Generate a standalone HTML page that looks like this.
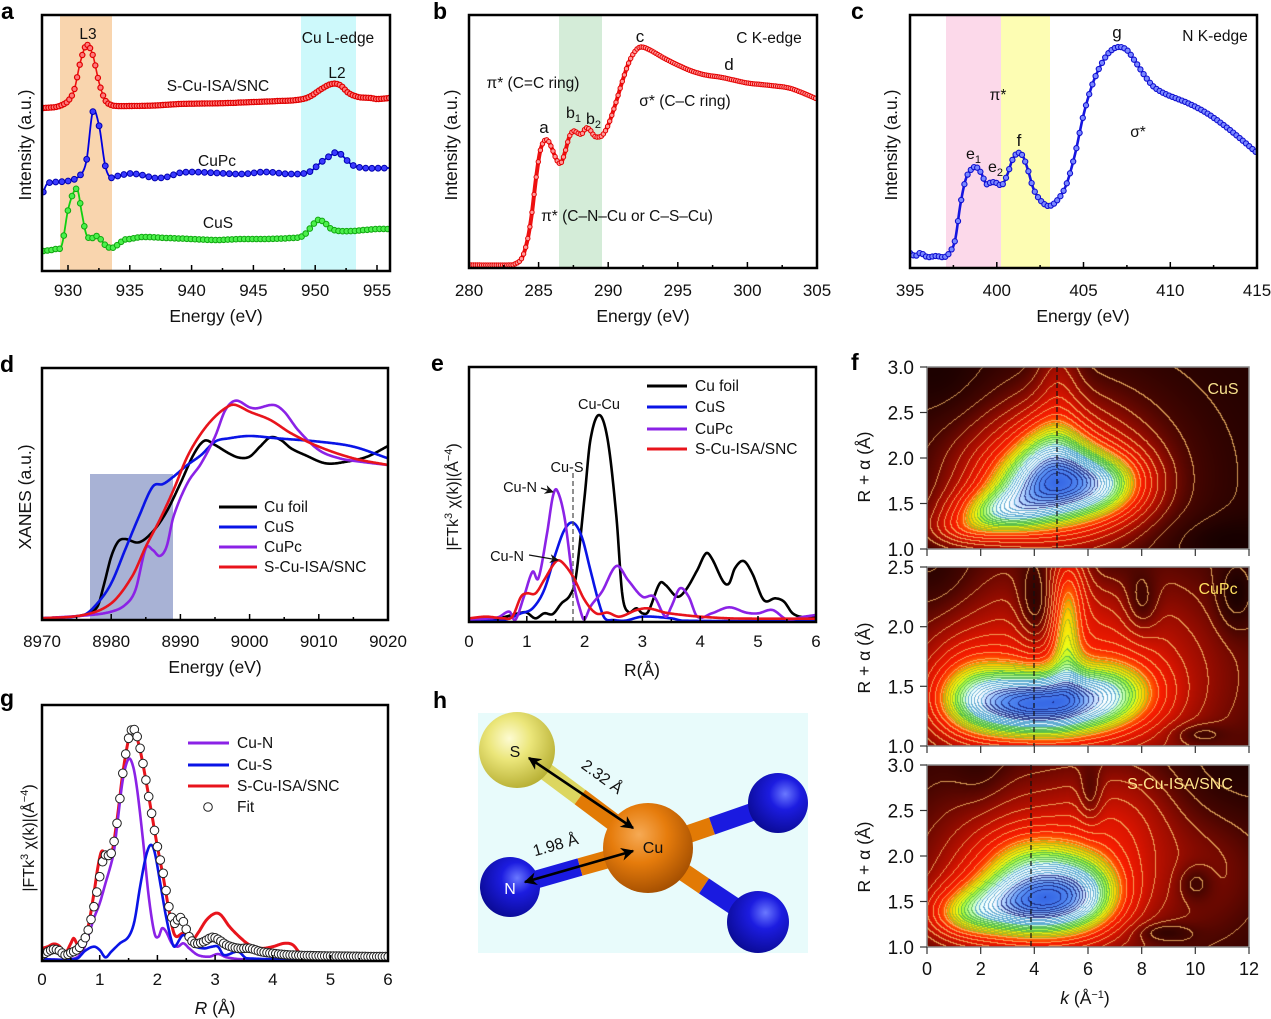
<!DOCTYPE html>
<html><head><meta charset="utf-8">
<style>
html,body{margin:0;padding:0;background:#fff;}
#wrap{position:relative;width:1271px;height:1019px;overflow:hidden;background:#fff;}
canvas{position:absolute;}
svg{position:absolute;left:0;top:0;}
text{font-family:"Liberation Sans",Arial,sans-serif;fill:#111;}
.pl{font-weight:bold;font-size:23px;fill:#000;}
.tk{font-size:17px;text-anchor:middle;}
.ti{font-size:17.5px;text-anchor:middle;}
.an{font-size:15.5px;text-anchor:middle;}
.lg{font-size:15.5px;}
.ft{font-size:19px;text-anchor:end;}
</style></head><body>
<div id="wrap">
<canvas id="m1" width="322" height="182" style="left:927px;top:367px"></canvas>
<canvas id="m2" width="322" height="179" style="left:927px;top:567px"></canvas>
<canvas id="m3" width="322" height="182" style="left:927px;top:765px"></canvas>
<svg id="s" width="1271" height="1019" viewBox="0 0 1271 1019">
<defs>
<clipPath id="ca"><rect x="42" y="15" width="348" height="256"/></clipPath>
<clipPath id="cb"><rect x="469" y="15" width="348" height="253"/></clipPath>
<clipPath id="cc"><rect x="910" y="15" width="347" height="253"/></clipPath>
<clipPath id="cd"><rect x="42" y="368" width="346" height="252"/></clipPath>
<clipPath id="ce"><rect x="469" y="367" width="347" height="255"/></clipPath>
<clipPath id="cg"><rect x="42" y="705" width="346" height="256"/></clipPath>
<marker id="ah" viewBox="0 0 10 10" refX="9" refY="5" markerWidth="9" markerHeight="9" markerUnits="userSpaceOnUse" orient="auto-start-reverse"><path d="M0,0 L10,5 L0,10 L3,5 Z" fill="#111"/></marker>
<marker id="ah2" viewBox="0 0 10 10" refX="9" refY="5" markerWidth="13" markerHeight="13" markerUnits="userSpaceOnUse" orient="auto-start-reverse"><path d="M0,0 L10,5 L0,10 L3,5 Z" fill="#000"/></marker>
<radialGradient id="gS" cx="0.4" cy="0.35" r="0.7"><stop offset="0" stop-color="#fdfbd2"/><stop offset="0.4" stop-color="#ebe67a"/><stop offset="1" stop-color="#b4ac30"/></radialGradient>
<radialGradient id="gCu" cx="0.4" cy="0.35" r="0.7"><stop offset="0" stop-color="#f6aa55"/><stop offset="0.45" stop-color="#e67c0c"/><stop offset="1" stop-color="#a04c00"/></radialGradient>
<radialGradient id="gN" cx="0.62" cy="0.35" r="0.75"><stop offset="0" stop-color="#6a78ff"/><stop offset="0.35" stop-color="#1c1ce0"/><stop offset="1" stop-color="#08088a"/></radialGradient>
</defs>

<!-- Panel a -->
<rect x="60" y="16" width="52" height="254" fill="#f9d5ae"/>
<rect x="301" y="16" width="55" height="254" fill="#cdf9fb"/>
<g id="ga" clip-path="url(#ca)"></g>
<rect x="42" y="15" width="348" height="256" fill="none" stroke="#000" stroke-width="2.5"/>
<g stroke="#000" stroke-width="1.5">
<line x1="68" y1="271" x2="68" y2="265"/><line x1="129.8" y1="271" x2="129.8" y2="265"/><line x1="191.6" y1="271" x2="191.6" y2="265"/><line x1="253.4" y1="271" x2="253.4" y2="265"/><line x1="315.2" y1="271" x2="315.2" y2="265"/><line x1="377" y1="271" x2="377" y2="265"/>
<line x1="98.9" y1="271" x2="98.9" y2="268"/><line x1="160.7" y1="271" x2="160.7" y2="268"/><line x1="222.5" y1="271" x2="222.5" y2="268"/><line x1="284.3" y1="271" x2="284.3" y2="268"/><line x1="346.1" y1="271" x2="346.1" y2="268"/>
</g>
<text class="tk" x="68" y="296">930</text><text class="tk" x="129.8" y="296">935</text><text class="tk" x="191.6" y="296">940</text><text class="tk" x="253.4" y="296">945</text><text class="tk" x="315.2" y="296">950</text><text class="tk" x="377" y="296">955</text>
<text class="ti" x="216" y="322">Energy (eV)</text>
<text class="ti" transform="translate(31,145) rotate(-90)">Intensity (a.u.)</text>
<text class="an" x="88" y="39">L3</text>
<text class="an" x="338" y="43">Cu L-edge</text>
<text class="an" x="337" y="78">L2</text>
<text class="an" x="218" y="91">S-Cu-ISA/SNC</text>
<text class="an" x="217" y="166">CuPc</text>
<text class="an" x="218" y="228">CuS</text>
<text class="pl" x="1" y="19">a</text>

<!-- Panel b -->
<rect x="559" y="16" width="43" height="251" fill="#d4ecd8"/>
<g id="gb" clip-path="url(#cb)"></g>
<rect x="469" y="15" width="348" height="253" fill="none" stroke="#000" stroke-width="2.5"/>
<g stroke="#000" stroke-width="1.5">
<line x1="538.6" y1="268" x2="538.6" y2="262"/><line x1="608.2" y1="268" x2="608.2" y2="262"/><line x1="677.8" y1="268" x2="677.8" y2="262"/><line x1="747.4" y1="268" x2="747.4" y2="262"/>
<line x1="503.8" y1="268" x2="503.8" y2="265"/><line x1="573.4" y1="268" x2="573.4" y2="265"/><line x1="643" y1="268" x2="643" y2="265"/><line x1="712.6" y1="268" x2="712.6" y2="265"/><line x1="782.2" y1="268" x2="782.2" y2="265"/>
</g>
<text class="tk" x="469" y="296">280</text><text class="tk" x="538.6" y="296">285</text><text class="tk" x="608.2" y="296">290</text><text class="tk" x="677.8" y="296">295</text><text class="tk" x="747.4" y="296">300</text><text class="tk" x="817" y="296">305</text>
<text class="ti" x="643" y="322">Energy (eV)</text>
<text class="ti" transform="translate(457,145) rotate(-90)">Intensity (a.u.)</text>
<text class="an" x="769" y="43">C K-edge</text>
<text class="an" x="640" y="42" style="font-size:17px">c</text>
<text class="an" x="729" y="70" style="font-size:17px">d</text>
<text class="an" x="533" y="88">π* (C=C ring)</text>
<text class="an" x="685" y="106">σ* (C–C ring)</text>
<text class="an" x="544" y="133" style="font-size:17px">a</text>
<text x="566" y="118" style="font-size:16px">b<tspan dy="4" font-size="11">1</tspan></text>
<text x="586" y="124" style="font-size:16px">b<tspan dy="4" font-size="11">2</tspan></text>
<text class="an" x="627" y="221">π* (C–N–Cu or C–S–Cu)</text>
<text class="pl" x="433" y="19">b</text>

<!-- Panel c -->
<rect x="946" y="16" width="55" height="251" fill="#fcd9ea"/>
<rect x="1001" y="16" width="49" height="251" fill="#fdfdb3"/>
<g id="gc" clip-path="url(#cc)"></g>
<rect x="910" y="15" width="347" height="253" fill="none" stroke="#000" stroke-width="2.5"/>
<g stroke="#000" stroke-width="1.5">
<line x1="996.8" y1="268" x2="996.8" y2="262"/><line x1="1083.5" y1="268" x2="1083.5" y2="262"/><line x1="1170.3" y1="268" x2="1170.3" y2="262"/>
<line x1="953.4" y1="268" x2="953.4" y2="265"/><line x1="1040.1" y1="268" x2="1040.1" y2="265"/><line x1="1126.9" y1="268" x2="1126.9" y2="265"/><line x1="1213.6" y1="268" x2="1213.6" y2="265"/>
</g>
<text class="tk" x="910" y="296">395</text><text class="tk" x="996.8" y="296">400</text><text class="tk" x="1083.5" y="296">405</text><text class="tk" x="1170.3" y="296">410</text><text class="tk" x="1257" y="296">415</text>
<text class="ti" x="1083" y="322">Energy (eV)</text>
<text class="ti" transform="translate(897,145) rotate(-90)">Intensity (a.u.)</text>
<text class="an" x="1215" y="41">N K-edge</text>
<text class="an" x="1117" y="38" style="font-size:17px">g</text>
<text class="an" x="998" y="100">π*</text>
<text class="an" x="1138" y="137">σ*</text>
<text x="966" y="159" style="font-size:16px">e<tspan dy="4" font-size="11">1</tspan></text>
<text x="988" y="172" style="font-size:16px">e<tspan dy="4" font-size="11">2</tspan></text>
<text class="an" x="1019" y="146" style="font-size:17px">f</text>
<text class="pl" x="851" y="19">c</text>

<!-- Panel d -->
<rect x="90" y="474" width="83" height="146" fill="#a8b2d5"/>
<g id="gd" clip-path="url(#cd)"></g>
<rect x="42" y="368" width="346" height="252" fill="none" stroke="#000" stroke-width="2.5"/>
<g stroke="#000" stroke-width="1.5">
<line x1="111.2" y1="620" x2="111.2" y2="614"/><line x1="180.4" y1="620" x2="180.4" y2="614"/><line x1="249.6" y1="620" x2="249.6" y2="614"/><line x1="318.8" y1="620" x2="318.8" y2="614"/>
<line x1="76.6" y1="620" x2="76.6" y2="617"/><line x1="145.8" y1="620" x2="145.8" y2="617"/><line x1="215" y1="620" x2="215" y2="617"/><line x1="284.2" y1="620" x2="284.2" y2="617"/><line x1="353.4" y1="620" x2="353.4" y2="617"/>
</g>
<text class="tk" x="42" y="647">8970</text><text class="tk" x="111.2" y="647">8980</text><text class="tk" x="180.4" y="647">8990</text><text class="tk" x="249.6" y="647">9000</text><text class="tk" x="318.8" y="647">9010</text><text class="tk" x="388" y="647">9020</text>
<text class="ti" x="215" y="673">Energy (eV)</text>
<text class="ti" transform="translate(31,497) rotate(-90)">XANES (a.u.)</text>
<g stroke-width="3">
<line x1="219" y1="507" x2="257" y2="507" stroke="#000"/>
<line x1="219" y1="527" x2="257" y2="527" stroke="#0a14e6"/>
<line x1="219" y1="547" x2="257" y2="547" stroke="#8b22e6"/>
<line x1="219" y1="567" x2="257" y2="567" stroke="#e8141c"/>
</g>
<text class="lg" x="264" y="512">Cu foil</text>
<text class="lg" x="264" y="532">CuS</text>
<text class="lg" x="264" y="552">CuPc</text>
<text class="lg" x="264" y="572">S-Cu-ISA/SNC</text>
<text class="pl" x="0" y="372">d</text>

<!-- Panel e -->
<g id="ge" clip-path="url(#ce)"></g>
<line x1="573" y1="473" x2="573" y2="622" stroke="#555" stroke-width="1.3" stroke-dasharray="5,3"/>
<rect x="469" y="367" width="347" height="255" fill="none" stroke="#000" stroke-width="2.5"/>
<g stroke="#000" stroke-width="1.5">
<line x1="526.8" y1="622" x2="526.8" y2="616"/><line x1="584.6" y1="622" x2="584.6" y2="616"/><line x1="642.4" y1="622" x2="642.4" y2="616"/><line x1="700.2" y1="622" x2="700.2" y2="616"/><line x1="758" y1="622" x2="758" y2="616"/>
<line x1="497.9" y1="622" x2="497.9" y2="619"/><line x1="555.7" y1="622" x2="555.7" y2="619"/><line x1="613.5" y1="622" x2="613.5" y2="619"/><line x1="671.3" y1="622" x2="671.3" y2="619"/><line x1="729.1" y1="622" x2="729.1" y2="619"/><line x1="786.9" y1="622" x2="786.9" y2="619"/>
</g>
<text class="tk" x="469" y="647">0</text><text class="tk" x="526.8" y="647">1</text><text class="tk" x="584.6" y="647">2</text><text class="tk" x="642.4" y="647">3</text><text class="tk" x="700.2" y="647">4</text><text class="tk" x="758" y="647">5</text><text class="tk" x="816" y="647">6</text>
<text class="ti" x="642" y="676">R(Å)</text>
<text style="font-size:16px;text-anchor:middle" transform="translate(458,497) rotate(-90)">|FTk<tspan dy="-6" font-size="11">3</tspan><tspan dy="6"> χ(k)|(Å</tspan><tspan dy="-6" font-size="11">−4</tspan><tspan dy="6">)</tspan></text>
<g stroke-width="3">
<line x1="647" y1="386" x2="687" y2="386" stroke="#000"/>
<line x1="647" y1="407" x2="687" y2="407" stroke="#0a14e6"/>
<line x1="647" y1="429" x2="687" y2="429" stroke="#8b22e6"/>
<line x1="647" y1="449" x2="687" y2="449" stroke="#e8141c"/>
</g>
<text class="lg" x="695" y="391">Cu foil</text>
<text class="lg" x="695" y="412">CuS</text>
<text class="lg" x="695" y="434">CuPc</text>
<text class="lg" x="695" y="454">S-Cu-ISA/SNC</text>
<text class="an" x="599" y="409" style="font-size:14.5px">Cu-Cu</text>
<text class="an" x="567" y="472" style="font-size:14.5px">Cu-S</text>
<text class="an" x="520" y="492" style="font-size:14.5px">Cu-N</text>
<text class="an" x="507" y="561" style="font-size:14.5px">Cu-N</text>
<line x1="541" y1="488" x2="553" y2="492" stroke="#111" stroke-width="1.2" marker-end="url(#ah)"/>
<line x1="529" y1="555" x2="558" y2="560" stroke="#111" stroke-width="1.2" marker-end="url(#ah)"/>
<text class="pl" x="431" y="371">e</text>

<!-- Panel g -->
<g id="gg" clip-path="url(#cg)"></g>
<rect x="42" y="705" width="346" height="256" fill="none" stroke="#000" stroke-width="2.5"/>
<g stroke="#000" stroke-width="1.5">
<line x1="99.7" y1="961" x2="99.7" y2="955"/><line x1="157.4" y1="961" x2="157.4" y2="955"/><line x1="215.1" y1="961" x2="215.1" y2="955"/><line x1="272.8" y1="961" x2="272.8" y2="955"/><line x1="330.5" y1="961" x2="330.5" y2="955"/>
<line x1="70.9" y1="961" x2="70.9" y2="958"/><line x1="128.6" y1="961" x2="128.6" y2="958"/><line x1="186.3" y1="961" x2="186.3" y2="958"/><line x1="244" y1="961" x2="244" y2="958"/><line x1="301.7" y1="961" x2="301.7" y2="958"/><line x1="359.4" y1="961" x2="359.4" y2="958"/>
</g>
<text class="tk" x="42" y="985">0</text><text class="tk" x="99.7" y="985">1</text><text class="tk" x="157.4" y="985">2</text><text class="tk" x="215.1" y="985">3</text><text class="tk" x="272.8" y="985">4</text><text class="tk" x="330.5" y="985">5</text><text class="tk" x="388" y="985">6</text>
<text class="ti" x="215" y="1014"><tspan font-style="italic">R</tspan> (Å)</text>
<text style="font-size:16px;text-anchor:middle" transform="translate(34,838) rotate(-90)">|FTk<tspan dy="-6" font-size="11">3</tspan><tspan dy="6"> χ(k)|(Å</tspan><tspan dy="-6" font-size="11">−4</tspan><tspan dy="6">)</tspan></text>
<g stroke-width="3">
<line x1="188" y1="743" x2="229" y2="743" stroke="#8b22e6"/>
<line x1="188" y1="765" x2="229" y2="765" stroke="#0a14e6"/>
<line x1="188" y1="786" x2="229" y2="786" stroke="#e8141c"/>
</g>
<circle cx="208" cy="807" r="4.3" fill="#fff" stroke="#222" stroke-width="1"/>
<text class="lg" x="237" y="748">Cu-N</text>
<text class="lg" x="237" y="770">Cu-S</text>
<text class="lg" x="237" y="791">S-Cu-ISA/SNC</text>
<text class="lg" x="237" y="812">Fit</text>
<text class="pl" x="0" y="706">g</text>

<!-- Panel h -->
<rect x="478" y="713" width="330" height="240" fill="#e8fbfb"/>
<g stroke-linecap="butt">
<line x1="517" y1="750" x2="580" y2="797" stroke="#dcd660" stroke-width="18"/>
<line x1="580" y1="797" x2="648" y2="848" stroke="#e27a05" stroke-width="18"/>
<line x1="648" y1="848" x2="712" y2="826" stroke="#e27a05" stroke-width="18"/>
<line x1="712" y1="826" x2="778" y2="803" stroke="#1a1ae0" stroke-width="18"/>
<line x1="648" y1="848" x2="704" y2="886" stroke="#e27a05" stroke-width="18"/>
<line x1="704" y1="886" x2="758" y2="922" stroke="#1a1ae0" stroke-width="18"/>
<line x1="510" y1="887" x2="580" y2="867" stroke="#1a1ae0" stroke-width="18"/>
<line x1="580" y1="867" x2="648" y2="848" stroke="#e27a05" stroke-width="18"/>
</g>
<circle cx="778" cy="803" r="30" fill="url(#gN)"/>
<circle cx="758" cy="922" r="31" fill="url(#gN)"/>
<circle cx="517" cy="750" r="38" fill="url(#gS)"/>
<circle cx="648" cy="848" r="45" fill="url(#gCu)"/>
<circle cx="510" cy="887" r="30" fill="url(#gN)"/>
<line x1="529" y1="758" x2="633" y2="828" stroke="#000" stroke-width="2.6" marker-start="url(#ah2)" marker-end="url(#ah2)"/>
<line x1="525" y1="882" x2="633" y2="851" stroke="#000" stroke-width="2.6" marker-start="url(#ah2)" marker-end="url(#ah2)"/>
<text x="515" y="757" style="font-size:16px;text-anchor:middle">S</text>
<text x="653" y="853" style="font-size:16px;text-anchor:middle">Cu</text>
<text x="510" y="894" style="font-size:16px;text-anchor:middle;fill:#fff">N</text>
<text style="font-size:16px;text-anchor:middle" transform="translate(599,781) rotate(36)">2.32 Å</text>
<text style="font-size:16px;text-anchor:middle" transform="translate(557,850) rotate(-16)">1.98 Å</text>
<text class="pl" x="433" y="708">h</text>

<!-- Panel f -->
<rect x="927" y="367" width="322" height="182" fill="none" stroke="#8a8a8a" stroke-width="1.5"/>
<rect x="927" y="567" width="322" height="179" fill="none" stroke="#8a8a8a" stroke-width="1.5"/>
<rect x="927" y="765" width="322" height="182" fill="none" stroke="#8a8a8a" stroke-width="1.5"/>
<line x1="1057" y1="367" x2="1057" y2="549" stroke="#111" stroke-width="1.2" stroke-dasharray="5,3"/>
<line x1="1034" y1="567" x2="1034" y2="746" stroke="#111" stroke-width="1.2" stroke-dasharray="5,3"/>
<line x1="1031" y1="765" x2="1031" y2="947" stroke="#111" stroke-width="1.2" stroke-dasharray="5,3"/>
<g stroke="#333" stroke-width="1.2">
<line x1="920" y1="367" x2="927" y2="367"/><line x1="920" y1="412.5" x2="927" y2="412.5"/><line x1="920" y1="458" x2="927" y2="458"/><line x1="920" y1="503.5" x2="927" y2="503.5"/><line x1="920" y1="549" x2="927" y2="549"/>
<line x1="920" y1="567" x2="927" y2="567"/><line x1="920" y1="626.7" x2="927" y2="626.7"/><line x1="920" y1="686.3" x2="927" y2="686.3"/><line x1="920" y1="746" x2="927" y2="746"/>
<line x1="920" y1="765" x2="927" y2="765"/><line x1="920" y1="810.5" x2="927" y2="810.5"/><line x1="920" y1="856" x2="927" y2="856"/><line x1="920" y1="901.5" x2="927" y2="901.5"/><line x1="920" y1="947" x2="927" y2="947"/>
<line x1="927" y1="549" x2="927" y2="556"/><line x1="980.7" y1="549" x2="980.7" y2="556"/><line x1="1034.3" y1="549" x2="1034.3" y2="556"/><line x1="1088" y1="549" x2="1088" y2="556"/><line x1="1141.7" y1="549" x2="1141.7" y2="556"/><line x1="1195.3" y1="549" x2="1195.3" y2="556"/><line x1="1249" y1="549" x2="1249" y2="556"/>
<line x1="927" y1="746" x2="927" y2="753"/><line x1="980.7" y1="746" x2="980.7" y2="753"/><line x1="1034.3" y1="746" x2="1034.3" y2="753"/><line x1="1088" y1="746" x2="1088" y2="753"/><line x1="1141.7" y1="746" x2="1141.7" y2="753"/><line x1="1195.3" y1="746" x2="1195.3" y2="753"/><line x1="1249" y1="746" x2="1249" y2="753"/>
<line x1="927" y1="947" x2="927" y2="954"/><line x1="980.7" y1="947" x2="980.7" y2="954"/><line x1="1034.3" y1="947" x2="1034.3" y2="954"/><line x1="1088" y1="947" x2="1088" y2="954"/><line x1="1141.7" y1="947" x2="1141.7" y2="954"/><line x1="1195.3" y1="947" x2="1195.3" y2="954"/><line x1="1249" y1="947" x2="1249" y2="954"/>
</g>
<text class="ft" x="914" y="374">3.0</text><text class="ft" x="914" y="419.5">2.5</text><text class="ft" x="914" y="465">2.0</text><text class="ft" x="914" y="510.5">1.5</text><text class="ft" x="914" y="556">1.0</text>
<text class="ft" x="914" y="574">2.5</text><text class="ft" x="914" y="633.7">2.0</text><text class="ft" x="914" y="693.3">1.5</text><text class="ft" x="914" y="753">1.0</text>
<text class="ft" x="914" y="772">3.0</text><text class="ft" x="914" y="817.5">2.5</text><text class="ft" x="914" y="863">2.0</text><text class="ft" x="914" y="908.5">1.5</text><text class="ft" x="914" y="954">1.0</text>
<text class="tk" x="927" y="975" style="font-size:18px">0</text><text class="tk" x="980.7" y="975" style="font-size:18px">2</text><text class="tk" x="1034.3" y="975" style="font-size:18px">4</text><text class="tk" x="1088" y="975" style="font-size:18px">6</text><text class="tk" x="1141.7" y="975" style="font-size:18px">8</text><text class="tk" x="1195.3" y="975" style="font-size:18px">10</text><text class="tk" x="1249" y="975" style="font-size:18px">12</text>
<text class="ti" x="1085" y="1004"><tspan font-style="italic">k</tspan> (Å<tspan dy="-6" font-size="11">−1</tspan><tspan dy="6">)</tspan></text>
<text class="ti" transform="translate(870,467) rotate(-90)">R + α (Å)</text>
<text class="ti" transform="translate(870,658) rotate(-90)">R + α (Å)</text>
<text class="ti" transform="translate(870,857) rotate(-90)">R + α (Å)</text>
<text x="1223" y="394" style="font-size:16px;text-anchor:middle;fill:#f6e08c">CuS</text>
<text x="1218" y="594" style="font-size:16px;text-anchor:middle;fill:#ffe060">CuPc</text>
<text x="1180" y="789" style="font-size:16px;text-anchor:middle;fill:#ffe58c">S-Cu-ISA/SNC</text>
<text class="pl" x="851" y="370">f</text>
</svg>
</div>
<script>
const NS="http://www.w3.org/2000/svg";
function el(tag,attrs,parent){const e=document.createElementNS(NS,tag);for(const k in attrs)e.setAttribute(k,attrs[k]);parent.appendChild(e);return e;}
function hermite(pts){
  const n=pts.length,m=new Array(n);
  for(let i=0;i<n;i++){const a=pts[Math.max(0,i-1)],b=pts[Math.min(n-1,i+1)];m[i]=(b[1]-a[1])/(b[0]-a[0]);}
  return x=>{let i=0;while(i<n-2&&x>pts[i+1][0])i++;
    const p0=pts[i],p1=pts[i+1],h=p1[0]-p0[0];const t=(x-p0[0])/h,t2=t*t,t3=t2*t;
    return (2*t3-3*t2+1)*p0[1]+(t3-2*t2+t)*h*m[i]+(-2*t3+3*t2)*p1[1]+(t3-t2)*h*m[i+1];};
}
function curve(g,pts,xm,ym,style){
  const P=pts.map(p=>[xm(p[0]),ym(p[1])]);const f=hermite(P);
  const x0=P[0][0],x1=P[P.length-1][0];let d='';
  for(let x=x0;x<=x1+0.25;x+=0.5){const xx=Math.min(x,x1);d+=(d?'L':'M')+xx.toFixed(1)+','+f(xx).toFixed(1);}
  el('path',Object.assign({d:d,fill:'none','stroke-linejoin':'round'},style),g);
  return {f:f,x0:x0,x1:x1};
}
function markers(g,c,step,r,fill,stroke,sw){
  for(let x=c.x0;x<=c.x1+0.01;x+=step){el('circle',{cx:x.toFixed(1),cy:c.f(x).toFixed(1),r:r,fill:fill,stroke:stroke,'stroke-width':sw},g);}
}
const id=v=>v;
// Panel a
(function(){
  const g=document.getElementById('ga');const xm=E=>68+(E-930)*12.36;
  const red=[[928,108],[929,107],[929.5,105],[930,101],[930.5,90],[931,62],[931.5,45],[932,55],[932.5,82],[933,100],[933.5,105],[934,106],[935,106],[937,105.5],[939,104],[941,103.5],[943,103],[945,102],[947,101],[948.5,100],[949.5,97],[950.5,89],[951.3,84],[952,85],[952.7,93],[953.5,97],[954.5,98],[955,99],[956,98]];
  const blue=[[928,192],[928.3,184],[929,182],[930,181],[931,175],[931.5,160],[932,112],[932.5,125],[933,165],[933.4,177],[934,176],[935,173.5],[936,175],[937,178],[938,177],[939,173],[940,172],[942,173],[944,174],[946,172],[948,174],[949.5,172],[950.5,162],[951.3,155],[951.8,152],[952.3,157],[953,165],[954,168],[956,168]];
  const green=[[928,251],[929,249],[929.5,245],[930,210],[930.5,191],[930.8,191],[931.1,212],[931.5,235],[932,238],[932.3,236],[932.7,240],[933,245],[933.5,248],[934,245],[934.5,240],[935,239],[936,237],[938,238],[940,239],[942,240],[944,239],[946,239],[948,238],[949,236],[949.8,225],[950.2,220],[950.7,222],[951.3,229],[952,231],[953,231],[954,230],[955,229],[956,229]];
  let c=curve(g,red,xm,id,{stroke:'#ee1010','stroke-width':1.6});markers(g,c,2.6,2.6,'#ff7a7a','#e00000',1.2);
  c=curve(g,blue,xm,id,{stroke:'#0000e0','stroke-width':1.8});markers(g,c,6.2,2.9,'#3a3aff','#0000b0',1);
  c=curve(g,green,xm,id,{stroke:'#10d010','stroke-width':1.8});markers(g,c,4.1,2.8,'#4cf04c','#10a810',1);
})();
// Panel b
(function(){
  const g=document.getElementById('gb');const xm=E=>469+(E-280)*13.92;
  const d=[[280,265],[283,265],[283.3,264],[283.8,258],[284.2,240],[284.5,215],[284.8,180],[285.1,152],[285.4,141],[285.7,141],[286,150],[286.3,160],[286.6,163],[286.9,152],[287.2,137],[287.5,131],[287.8,133],[288.1,134],[288.4,128],[288.7,130],[289,136],[289.3,137],[289.6,135],[290,125],[290.5,105],[291,82],[291.5,62],[292,50],[292.4,47],[293,50],[294,58],[295,65],[296,71],[297,75],[298,77],[299,80],[300,83],[301,84.5],[302,86],[303,88],[304,93],[305,99]];
  const c=curve(g,d,xm,id,{stroke:'#ee1010','stroke-width':4});markers(g,c,2.1,2.2,'#ff9a9a','#e40000',1);
})();
// Panel c
(function(){
  const g=document.getElementById('gc');const xm=E=>910+(E-395)*17.35;
  const d=[[395,253],[395.3,256],[395.6,253],[396,257],[396.5,256],[397,257],[397.3,252],[397.6,240],[397.9,205],[398.2,180],[398.5,170],[398.8,167],[399.1,173],[399.4,184],[399.7,182],[400,183],[400.3,185],[400.6,175],[400.9,160],[401.2,153],[401.5,156],[401.8,170],[402.1,188],[402.5,200],[403,206],[403.5,200],[404,185],[404.5,155],[405,115],[405.5,85],[406,65],[406.5,52],[407,47],[407.5,50],[408,62],[408.5,75],[409,86],[409.5,92],[410,96],[411,103],[412,112],[413,124],[414,138],[415,153]];
  const c=curve(g,d,xm,id,{stroke:'#1515e0','stroke-width':2.6});markers(g,c,3.2,2.6,'#7a88ff','#1010d0',1.1);
})();
// Panel d
(function(){
  const g=document.getElementById('gd');const xm=E=>42+(E-8970)*6.92;const ym=z=>330+z/3;
  const bk=[[8970,865],[8976,855],[8978,830],[8979,760],[8980,680],[8981,635],[8982,627],[8984,637],[8986,605],[8988,545],[8990,460],[8992,370],[8993.5,332],[8995,345],[8997,370],[8998.5,383],[9000,380],[9001.5,350],[9003,322],[9004.5,330],[9006,355],[9008,375],[9011,400],[9014,395],[9017,380],[9020,348]];
  const bl=[[8970,865],[8976,855],[8978,820],[8980,760],[8982,660],[8984,560],[8986,470],[8987.5,462],[8989,440],[8991,405],[8993,375],[8995,335],[8997,325],[9000,318],[9004,325],[9010,335],[9015,350],[9020,385]];
  const pu=[[8970,865],[8977,855],[8980,845],[8982,825],[8983.5,780],[8985,655],[8986,660],[8987,678],[8988,650],[8989,560],[8991,460],[8993,400],[8995,320],[8996.5,240],[8998,212],[9000,232],[9001,235],[9003.5,225],[9005,245],[9007,300],[9010,360],[9013,385],[9016,395],[9020,405]];
  const rd=[[8970,865],[8976,855],[8980,820],[8983,740],[8985,650],[8987,570],[8989,480],[8991,380],[8993,310],[8995,260],[8997,228],[8998,225],[9000,245],[9003,270],[9006,310],[9010,350],[9015,385],[9020,405]];
  curve(g,bk,xm,ym,{stroke:'#000','stroke-width':2.6});
  curve(g,bl,xm,ym,{stroke:'#0a14e6','stroke-width':2.6});
  curve(g,pu,xm,ym,{stroke:'#8b22e6','stroke-width':2.6});
  curve(g,rd,xm,ym,{stroke:'#e8141c','stroke-width':2.6});
})();
// Panel e
(function(){
  const g=document.getElementById('ge');const xm=R=>469+R*57.8;const ym=z=>330+z/3;
  const bk=[[0,870],[0.5,865],[0.9,848],[1.0,848],[1.15,865],[1.3,850],[1.45,852],[1.6,820],[1.75,795],[1.85,740],[2.0,500],[2.1,330],[2.25,255],[2.4,330],[2.55,560],[2.65,790],[2.75,845],[2.9,835],[3.0,850],[3.1,845],[3.3,760],[3.4,765],[3.6,800],[3.75,780],[3.95,720],[4.1,670],[4.2,685],[4.4,755],[4.5,760],[4.6,715],[4.75,693],[4.9,730],[5.1,810],[5.3,805],[5.45,815],[5.6,850],[5.8,862],[6.0,860]];
  const bl=[[0,872],[0.6,870],[0.9,850],[1.1,835],[1.3,780],[1.5,670],[1.65,600],[1.8,578],[1.95,620],[2.1,720],[2.25,820],[2.35,865],[2.5,870],[2.7,872],[3,860],[3.5,865],[3.7,872],[6,872]];
  const pu=[[0,868],[0.5,862],[0.7,845],[0.8,870],[0.95,800],[1.1,725],[1.2,745],[1.35,610],[1.45,500],[1.52,480],[1.65,560],[1.8,750],[1.95,855],[2.0,868],[2.1,830],[2.3,785],[2.55,708],[2.75,750],[3.0,800],[3.2,800],[3.4,860],[3.5,830],[3.65,775],[3.8,800],[3.95,860],[4.2,850],[4.5,832],[4.8,848],[5.0,850],[5.25,840],[5.5,868],[5.8,860],[6,855]];
  const rd=[[0,865],[0.3,860],[0.6,865],[0.75,860],[0.9,800],[1.0,790],[1.15,790],[1.3,750],[1.5,695],[1.6,695],[1.8,740],[2.0,810],[2.2,850],[2.4,848],[2.6,860],[2.9,840],[3.1,835],[3.4,848],[3.7,855],[4,860],[4.5,865],[5,866],[6,866]];
  curve(g,bk,xm,ym,{stroke:'#000','stroke-width':2.6});
  curve(g,bl,xm,ym,{stroke:'#0a14e6','stroke-width':2.6});
  curve(g,pu,xm,ym,{stroke:'#8b22e6','stroke-width':2.6});
  curve(g,rd,xm,ym,{stroke:'#e8141c','stroke-width':2.6});
})();
// Panel g
(function(){
  const g=document.getElementById('gg');const xm=R=>42+R*57.7;const ym=z=>680+z/3;
  const rd=[[0,805],[0.1,800],[0.2,792],[0.3,798],[0.4,820],[0.5,790],[0.55,775],[0.62,795],[0.7,790],[0.8,740],[0.9,640],[0.97,560],[1.03,515],[1.1,520],[1.2,525],[1.3,420],[1.4,280],[1.5,178],[1.56,150],[1.62,160],[1.7,210],[1.8,300],[1.9,400],[2.0,500],[2.1,590],[2.2,690],[2.3,765],[2.45,760],[2.6,780],[2.7,760],[2.85,720],[3.0,700],[3.1,705],[3.25,740],[3.45,775],[3.6,795],[3.8,805],[4.0,800],[4.2,790],[4.35,795],[4.5,825],[4.7,835],[5,832],[6,832]];
  const pu=[[0,838],[0.55,836],[0.7,815],[0.8,770],[0.9,715],[1.0,670],[1.1,610],[1.2,550],[1.25,510],[1.3,440],[1.4,300],[1.5,237],[1.58,260],[1.65,330],[1.75,480],[1.85,650],[1.95,760],[2.02,770],[2.08,745],[2.15,755],[2.25,790],[2.35,800],[2.45,790],[2.55,805],[2.7,825],[2.9,830],[3.05,822],[3.2,832],[3.5,838],[6,838]];
  const bl=[[0,838],[0.6,836],[0.75,812],[0.9,800],[1.0,810],[1.1,832],[1.2,815],[1.35,790],[1.5,770],[1.6,725],[1.7,620],[1.8,530],[1.88,495],[1.95,515],[2.05,610],[2.15,710],[2.25,785],[2.3,800],[2.45,765],[2.6,795],[2.8,805],[2.95,800],[3.05,800],[3.15,825],[3.4,815],[3.55,835],[6,838]];
  const fit=[[0,825],[0.1,815],[0.2,808],[0.3,812],[0.4,825],[0.5,818],[0.6,810],[0.7,790],[0.8,750],[0.9,680],[1.0,590],[1.05,545],[1.1,525],[1.2,520],[1.3,430],[1.4,280],[1.5,175],[1.56,148],[1.62,155],[1.7,205],[1.8,300],[1.9,400],[2.0,500],[2.1,580],[2.2,680],[2.3,730],[2.38,712],[2.45,725],[2.55,770],[2.65,790],[2.8,785],[2.95,772],[3.05,778],[3.2,795],[3.4,805],[3.6,805],[3.8,815],[4.0,820],[4.3,825],[5,828],[6,830]];
  curve(g,rd,xm,ym,{stroke:'#e8141c','stroke-width':3});
  curve(g,pu,xm,ym,{stroke:'#8b22e6','stroke-width':2.6});
  curve(g,bl,xm,ym,{stroke:'#0a14e6','stroke-width':2.6});
  const P=fit.map(p=>[xm(p[0]),ym(p[1])]);const f=hermite(P);
  for(let R=0;R<=6.001;R+=0.05){const x=xm(R);el('circle',{cx:x.toFixed(1),cy:f(x).toFixed(1),r:4.3,fill:'#fff',stroke:'#222','stroke-width':1},g);}
})();
// Contour maps
function G(k,R,k0,R0,sk,sR){const a=(k-k0)/sk,b=(R-R0)/sR;return Math.exp(-0.5*(a*a+b*b));}
const stops=[[0,[20,0,0]],[0.1,[70,5,0]],[0.2,[150,12,0]],[0.3,[215,20,0]],[0.4,[250,30,0]],[0.46,[255,95,0]],[0.52,[255,205,0]],[0.57,[240,250,20]],[0.62,[170,250,60]],[0.68,[200,255,190]],[0.74,[238,255,255]],[0.8,[255,255,255]],[0.86,[180,212,255]],[0.93,[92,148,245]],[1,[56,106,230]]];
function cmap(v){v=Math.max(0,Math.min(1,v));for(let i=1;i<stops.length;i++){if(v<=stops[i][0]){const a=stops[i-1],b=stops[i],t=(v-a[0])/(b[0]-a[0]);return [a[1][0]+(b[1][0]-a[1][0])*t,a[1][1]+(b[1][1]-a[1][1])*t,a[1][2]+(b[1][2]-a[1][2])*t];}}return stops[stops.length-1][1];}
function lcol(v){if(v<0.48)return [250,190,105];if(v<0.58)return [150,185,40];if(v<0.7)return [70,175,80];if(v<0.83)return [60,150,200];return [20,30,120];}
function lev(v){return v<0.46?Math.floor(v/0.46*9):9+Math.floor((v-0.46)/0.54*22);}
function drawMap(cid,Rt,Rb,f){
  const c=document.getElementById(cid),ctx=c.getContext('2d');const W=c.width,H=c.height;
  const vals=new Float32Array(W*H);let mx=0;
  for(let y=0;y<H;y++)for(let x=0;x<W;x++){const k=(x+0.5)/W*12,R=Rt-(y+0.5)/H*(Rt-Rb);let v=f(k,R);if(v<0)v=0;vals[y*W+x]=v;if(v>mx)mx=v;}
  const img=ctx.createImageData(W,H);
  for(let i=0;i<vals.length;i++)vals[i]/=mx;
  const L=new Int16Array(W*H);for(let i=0;i<vals.length;i++)L[i]=lev(vals[i]);
  for(let y=0;y<H;y++)for(let x=0;x<W;x++){
    const i=y*W+x,v=vals[i];let col=cmap(v);
    let edge=false;if(x<W-1&&L[i+1]!==L[i])edge=true;if(y<H-1&&L[i+W]!==L[i])edge=true;
    if(edge){const lc=lcol(v);col=[col[0]*0.2+lc[0]*0.8,col[1]*0.2+lc[1]*0.8,col[2]*0.2+lc[2]*0.8];}
    img.data[i*4]=col[0];img.data[i*4+1]=col[1];img.data[i*4+2]=col[2];img.data[i*4+3]=255;}
  ctx.putImageData(img,0,0);
}
drawMap('m1',3,1,(k,R)=>{
  const bg=0.42*G(k,R,4.8,1.8,2.8,0.65)+0.04+0.14*G(k,R,4.9,2.9,0.6,0.45)+0.08*G(k,R,1.5,1.25,1.5,0.2)-0.05*G(k,R,0.8,2.8,1.3,0.35)-0.05*G(k,R,10.8,1.1,1.6,0.18);
  const bl=0.62*G(k,R,4.6,1.68,1.55,0.3)+0.35*G(k,R,2.6,1.4,1.2,0.18)+0.3*G(k,R,6.8,1.72,1.15,0.25)+0.22*G(k,R,4.7,2.15,0.95,0.27)+0.12*G(k,R,1.3,1.2,0.9,0.12);
  return bg+bl;});
drawMap('m2',2.5,1,(k,R)=>{
  const bg=0.3*G(k,R,5.5,1.6,3.8,0.6)+0.07-0.18*G(k,R,4.1,2.15,0.5,0.25)-0.12*G(k,R,8,2.18,0.45,0.18)-0.1*G(k,R,11.5,2.25,0.5,0.2)-0.08*G(k,R,10.1,1.1,0.7,0.06)-0.06*G(k,R,0.3,2.45,1.0,0.25)-0.04*G(k,R,6.8,2.5,0.8,0.15);
  const bl=0.62*G(k,R,4.1,1.34,1.9,0.19)+0.25*G(k,R,1.6,1.45,1.2,0.28)+0.22*G(k,R,7.0,1.45,1.3,0.2)+0.2*G(k,R,5.2,1.95,0.4,0.3)+0.15*G(k,R,5.3,2.4,0.5,0.25);
  return bg+bl;});
drawMap('m3',3,1,(k,R)=>{
  const bg=0.34*G(k,R,4.5,1.8,3.3,0.75)+0.05+0.1*G(k,R,7.5,2.5,1.5,0.5)+0.08*G(k,R,11,1.9,1.5,0.6)-0.12*G(k,R,6.1,2.65,0.3,0.22)-0.1*G(k,R,10,1.7,0.45,0.14)-0.1*G(k,R,8.8,1.16,0.7,0.07)-0.05*G(k,R,11,2.8,1.6,0.45)-0.05*G(k,R,2,2.95,0.7,0.3);
  const bl=0.62*G(k,R,3.9,1.47,1.7,0.27)+0.25*G(k,R,1.3,1.35,1.1,0.2)+0.25*G(k,R,5.9,1.62,1.1,0.3)+0.2*G(k,R,3.9,1.95,1.3,0.25);
  return bg+bl;});
</script>
</body></html>
